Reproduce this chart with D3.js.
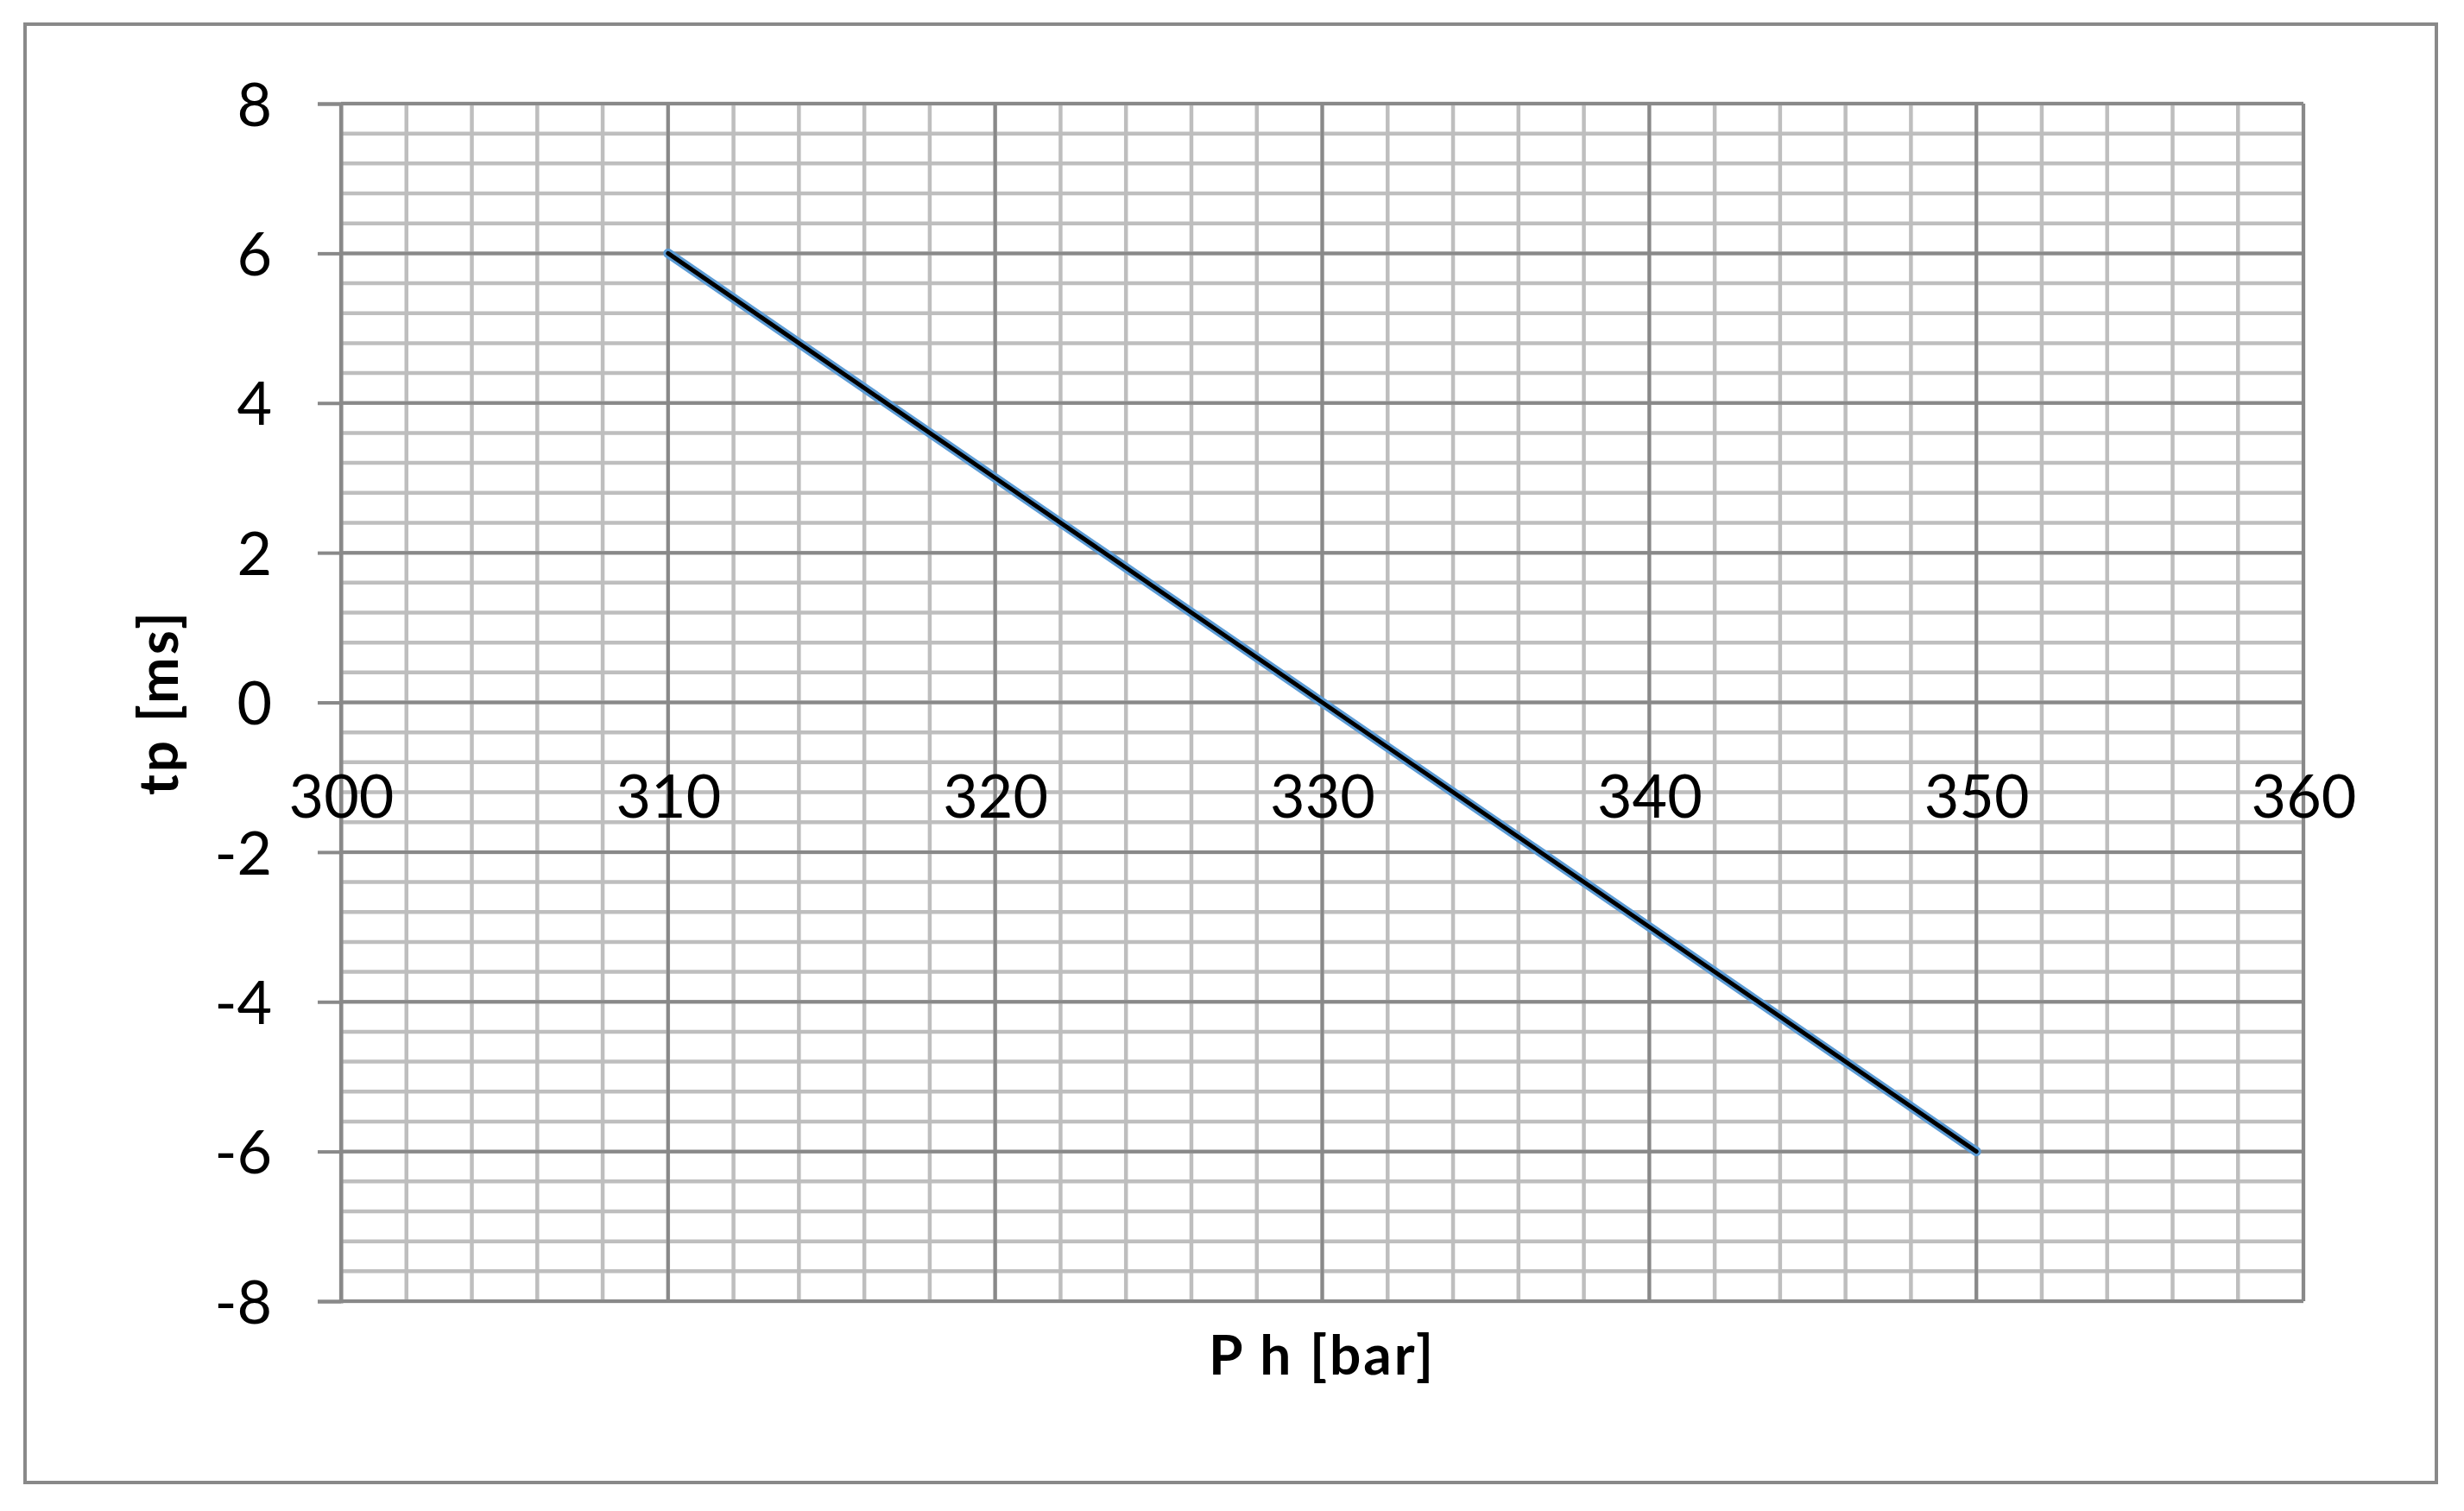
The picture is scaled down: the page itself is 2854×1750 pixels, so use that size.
<!DOCTYPE html>
<html>
<head>
<meta charset="utf-8">
<script src="https://cdn.jsdelivr.net/npm/d3@7"></script>
<style>
  html, body { margin: 0; padding: 0; background: #ffffff; }
  svg { display: block; }
</style>
</head>
<body>
<svg id="chart" width="2854" height="1750"></svg>
<script>
// ---- data ----
const xTickValues = [300, 310, 320, 330, 340, 350, 360];
const yTickValues = [-8, -6, -4, -2, 0, 2, 4, 6, 8];
const seriesX = [310, 320, 330, 340, 350];
const seriesY = [6, 3, 0, -3, -6];
const xTitle = "P h [bar]";
const yTitle = "tp [ms]";

// ---- layout ----
const W = 2854, H = 1750;
const plot = { left: 395, right: 2668, top: 120, bottom: 1507 };
const majorColor = "#898989";
const minorColor = "#bebebe";
const font = "Lato, 'Open Sans', sans-serif";
const fmt = d => String(d); // plain hyphen-minus like the reference

const svg = d3.select("#chart");
svg.append("rect").attr("x", 0).attr("y", 0).attr("width", W).attr("height", H).attr("fill", "#fff");

// outer chart border
svg.append("rect")
  .attr("x", 29).attr("y", 28).attr("width", 2822 - 29).attr("height", 1717 - 28)
  .attr("fill", "none").attr("stroke", majorColor).attr("stroke-width", 4);

const x = d3.scaleLinear().domain([300, 360]).range([plot.left, plot.right]);
const y = d3.scaleLinear().domain([-8, 8]).range([plot.bottom, plot.top]);

// minor gridlines
const xMinor = d3.range(0, 31).map(i => 300 + i * 2);
const yMinor = d3.range(0, 41).map(i => -8 + i * 0.4);
const grid = svg.append("g");
grid.selectAll("line.vmin").data(xMinor).join("line")
  .attr("x1", d => x(d)).attr("x2", d => x(d))
  .attr("y1", plot.top).attr("y2", plot.bottom)
  .attr("stroke", minorColor).attr("stroke-width", 4.5);
grid.selectAll("line.hmin").data(yMinor).join("line")
  .attr("x1", plot.left).attr("x2", plot.right)
  .attr("y1", d => y(d)).attr("y2", d => y(d))
  .attr("stroke", minorColor).attr("stroke-width", 4.5);

// major gridlines
grid.selectAll("line.vmaj").data(xTickValues).join("line")
  .attr("x1", d => x(d)).attr("x2", d => x(d))
  .attr("y1", plot.top).attr("y2", plot.bottom)
  .attr("stroke", majorColor).attr("stroke-width", 4);
grid.selectAll("line.hmaj").data(yTickValues).join("line")
  .attr("x1", plot.left).attr("x2", plot.right)
  .attr("y1", d => y(d)).attr("y2", d => y(d))
  .attr("stroke", majorColor).attr("stroke-width", 4);

// y axis
const yAxis = svg.append("g").attr("transform", `translate(${plot.left},0)`)
  .call(d3.axisLeft(y).tickValues(yTickValues).tickSize(27).tickPadding(53).tickFormat(fmt));
yAxis.select(".domain").attr("stroke", majorColor).attr("stroke-width", 4);
yAxis.selectAll(".tick line").attr("stroke", majorColor).attr("stroke-width", 4);
yAxis.selectAll(".tick text")
  .attr("font-family", font).attr("font-size", 70).attr("fill", "#000")
  .attr("dy", "0.36em");

// x axis (crosses at y = 0)
const xAxis = svg.append("g").attr("transform", `translate(0,${y(0)})`)
  .call(d3.axisBottom(x).tickValues(xTickValues).tickSize(0).tickFormat(fmt));
xAxis.select(".domain").remove();
xAxis.selectAll(".tick text")
  .attr("font-family", font).attr("font-size", 70).attr("fill", "#000")
  .attr("y", 947 - y(0)).attr("dy", 0);

// series line
const pts = seriesX.map((v, i) => [v, seriesY[i]]);
const lineGen = d3.line().x(d => x(d[0])).y(d => y(d[1]));
svg.append("path").attr("d", lineGen(pts))
  .attr("fill", "none").attr("stroke", "#5b9bd5").attr("stroke-width", 11)
  .attr("stroke-linecap", "round").attr("stroke-linejoin", "round");
svg.append("path").attr("d", lineGen(pts))
  .attr("fill", "none").attr("stroke", "#000").attr("stroke-width", 5)
  .attr("stroke-linecap", "round").attr("stroke-linejoin", "round");

// axis titles
svg.append("text")
  .attr("x", (plot.left + plot.right) / 2).attr("y", 1592)
  .attr("text-anchor", "middle")
  .attr("font-family", font).attr("font-weight", "bold").attr("font-size", 64)
  .attr("letter-spacing", 3)
  .text(xTitle);
svg.append("text")
  .attr("transform", `translate(206,${(plot.top + plot.bottom) / 2}) rotate(-90)`)
  .attr("text-anchor", "middle")
  .attr("font-family", font).attr("font-weight", "bold").attr("font-size", 64)
  .attr("letter-spacing", 3)
  .text(yTitle);
</script>
</body>
</html>
